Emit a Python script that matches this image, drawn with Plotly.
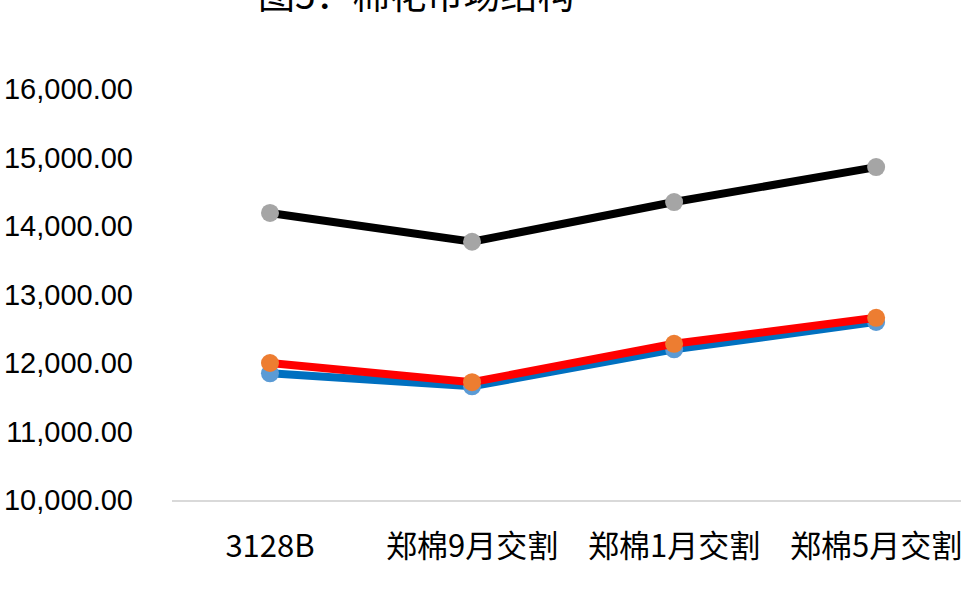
import plotly.graph_objects as go

categories = ["3128B", "郑棉9月交割", "郑棉1月交割", "郑棉5月交割"]
series_black = [14190, 13770, 14350, 14860]
series_blue = [11850, 11660, 12200, 12600]
series_red = [12000, 11720, 12280, 12660]
y_ticks = [10000, 11000, 12000, 13000, 14000, 15000, 16000]
title_text = "图5：棉花市场结构"

fig = go.Figure()
fig.add_trace(go.Scatter(x=categories, y=series_blue, mode="lines+markers",
                         line=dict(color="#0070c0", width=8),
                         marker=dict(color="#5b9bd5", size=18)))
fig.add_trace(go.Scatter(x=categories, y=series_red, mode="lines+markers",
                         line=dict(color="#ff0000", width=8),
                         marker=dict(color="#ed7d31", size=18)))
fig.add_trace(go.Scatter(x=categories, y=series_black, mode="lines+markers",
                         line=dict(color="#000000", width=8),
                         marker=dict(color="#a5a5a5", size=18)))

L, R, T, B = 172, 0, 89, 100
W, H = 961, 600
plot_w = W - L - R
plot_h = H - T - B

fig.update_layout(
    width=W, height=H,
    margin=dict(l=L, r=R, t=T, b=B),
    paper_bgcolor="white", plot_bgcolor="white",
    showlegend=False,
    font=dict(family="Liberation Sans, Noto Sans CJK SC", color="#000000"),
)
fig.update_xaxes(type="category", range=[-0.485, 3.42], showgrid=False,
                 showline=True, linecolor="#d9d9d9", linewidth=2,
                 ticks="", ticklabelstandoff=18,
                 tickfont=dict(size=31, family="Noto Sans CJK SC", color="#000000"))
fig.update_yaxes(range=[10000, 16000], tickvals=y_ticks,
                 ticktext=[f"{v:,.2f}" for v in y_ticks],
                 showgrid=False, zeroline=False, showline=False, ticks="",
                 ticklabelstandoff=38,
                 tickfont=dict(size=29, family="Liberation Sans", color="#000000"))

fig.add_annotation(text=title_text, xref="paper", yref="paper",
                   x=(416 - L) / plot_w, y=(H - B + 7) / plot_h,
                   xanchor="center", yanchor="middle", showarrow=False,
                   font=dict(size=37, family="Noto Sans CJK SC", color="#000000"))

fig.write_html("out.html", config={"displayModeBar": False},
               post_script="document.body.style.margin='0';document.documentElement.style.margin='0';")
